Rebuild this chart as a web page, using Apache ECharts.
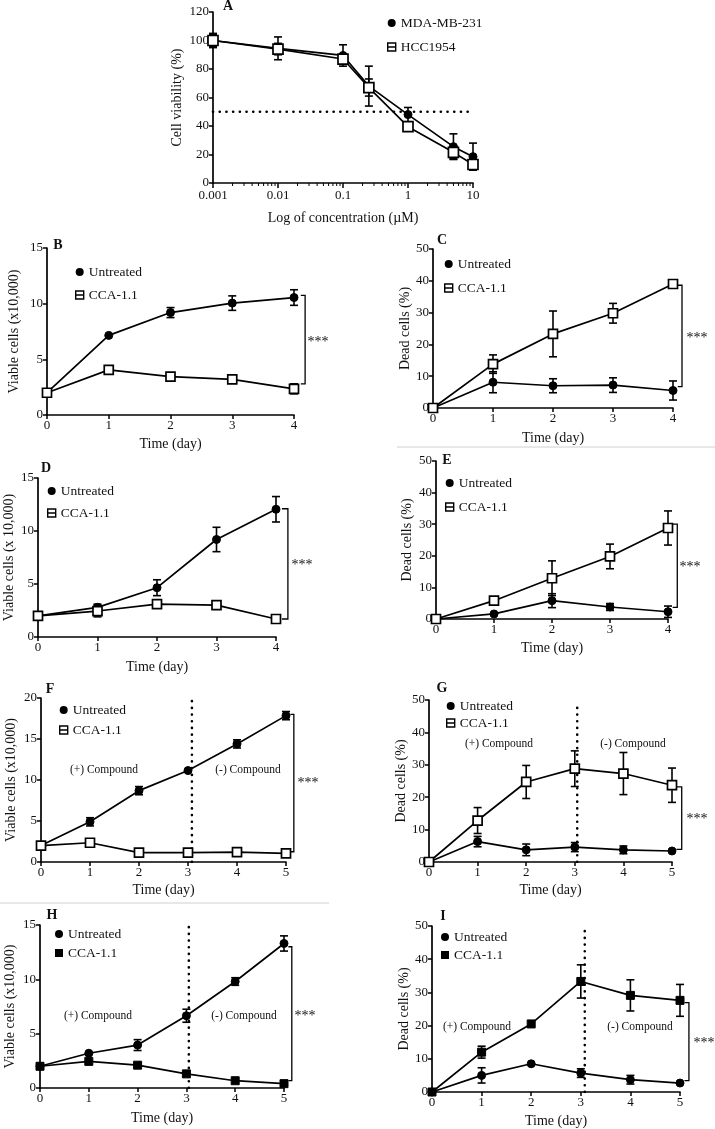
<!DOCTYPE html>
<html><head><meta charset="utf-8">
<script src="https://cdn.jsdelivr.net/npm/echarts@6/dist/echarts.min.js"></script>
<style>html,body{margin:0;padding:0;background:#fff}#c{width:715px;height:1129px}</style>
</head><body><div id="c"></div>
<script>
// ---------------- DATA ----------------
// Panel A
const concA = [0.001, 0.01, 0.1, 0.25, 1, 5, 10];
const mdaA = [100, 94.5, 89.5, 68, 48, 25.5, 18.5];
const mdaAErr = [5, 8, 7.5, 14, 5, 9, 9.5];
const hccA = [100, 94, 87, 67, 39.5, 21.5, 13];
const hccAErr = [4, 4, 3, 6, 2, 4.5, 3.5];
const xTicksA = ['0.001', '0.01', '0.1', '1', '10'];
const minorTicksA = [0.002,0.003,0.004,0.005,0.006,0.007,0.008,0.009,
  0.02,0.03,0.04,0.05,0.06,0.07,0.08,0.09,
  0.2,0.3,0.4,0.5,0.6,0.7,0.8,0.9,
  2,3,4,5,6,7,8,9];
const thresholdA = 50;

const days4 = [0, 1, 2, 3, 4];
const days5 = [0, 1, 2, 3, 4, 5];

// Panel B
const untB = [2, 7.15, 9.2, 10.05, 10.55];
const untBErr = [0, 0, 0.45, 0.65, 0.7];
const ccaB = [2, 4.05, 3.45, 3.2, 2.35];
const ccaBErr = [0, 0.15, 0.15, 0.35, 0.45];
// Panel C
const untC = [0, 8.1, 7.0, 7.2, 5.5];
const untCErr = [0, 3.3, 2.2, 2.3, 3.0];
const ccaC = [0, 13.8, 23.3, 29.8, 39.0];
const ccaCErr = [0, 2.9, 7.2, 3.1, 0.8];
// Panel D
const untD = [2, 2.8, 4.65, 9.2, 12.05];
const untDErr = [0, 0.3, 0.75, 1.15, 1.2];
const ccaD = [2, 2.45, 3.1, 3.0, 1.7];
const ccaDErr = [0, 0.55, 0.3, 0.2, 0.15];
// Panel E
const untE = [0, 1.6, 5.8, 3.8, 2.3];
const untEErr = [0, 0, 2.2, 1.1, 1.8];
const ccaE = [0, 5.8, 12.9, 19.8, 28.8];
const ccaEErr = [0, 0.8, 5.5, 3.9, 5.4];
// Panel F
const untF = [2, 4.9, 8.7, 11.15, 14.4, 17.85];
const untFErr = [0, 0.5, 0.5, 0, 0.5, 0.5];
const ccaF = [2, 2.35, 1.15, 1.15, 1.2, 1.05];
const ccaFErr = [0, 0, 0, 0, 0, 0];
// Panel G
const untG = [0, 6.3, 3.75, 4.6, 3.75, 3.4];
const untGErr = [0, 1.6, 1.8, 1.4, 1.2, 0];
const ccaG = [0, 12.8, 24.7, 28.8, 27.3, 23.7];
const ccaGErr = [0, 4, 5.1, 5.5, 6.5, 5.3];
// Panel H
const untH = [2, 3.2, 3.95, 6.65, 9.8, 13.3];
const untHErr = [0, 0, 0.5, 0.6, 0.35, 0.7];
const ccaH = [2, 2.45, 2.1, 1.3, 0.67, 0.4];
const ccaHErr = [0, 0, 0, 0, 0, 0];
// Panel I
const untI = [0, 5.0, 8.5, 5.7, 3.7, 2.7];
const untIErr = [0, 2.3, 0, 1.3, 1.3, 0];
const ccaI = [0, 12.0, 20.5, 33.3, 29.1, 27.6];
const ccaIErr = [0, 1.8, 0, 5, 4.7, 4.8];

// significance brackets: [armStartX, bracketX, topY, bottomY]
const bracketB = [4.11, 4.18, 10.75, 2.8];
const bracketC = [4.08, 4.15, 38.6, 6.7];
const bracketD = [4.1, 4.2, 12.1, 1.7];
const bracketE = [4.08, 4.16, 30, 3.7];
const bracketF = [5.09, 5.16, 18.0, 1.25];
const bracketG = [5.09, 5.2, 23.2, 3.9];
const bracketH = [5.09, 5.16, 13.0, 0.67];
const bracketI = [5.09, 5.18, 26.9, 3.4];
// treatment-switch dotted line: [x, topY]
const switchF = [3.08, 20];
const switchG = [3.05, 49];
const switchH = [3.05, 15.5];
const switchI = [3.08, 49];

// ---------------- CHART ----------------
const FONT = '"Liberation Serif", "Times New Roman", serif';
const BLACK = '#000';
const option = {animation:false, backgroundColor:'#fff', grid:[], xAxis:[], yAxis:[], legend:[], series:[], graphic:[]};

function axisBase(){
  return {
    axisLine:{show:true, onZero:false, lineStyle:{color:BLACK, width:1.7}},
    axisTick:{show:true, length:4, lineStyle:{color:BLACK, width:1.5}},
    splitLine:{show:false},
    axisLabel:{color:'#111', fontFamily:FONT, fontSize:13, margin:4},
    nameTextStyle:{color:'#111', fontFamily:FONT, fontSize:14},
    nameLocation:'middle'
  };
}
function zip(xs, ys){ return xs.map((x,i)=>[x, ys[i]]); }
function zip3(xs, ys, es){ return xs.map((x,i)=>[x, ys[i], es[i]]); }

function errRender(params, api){
  const x = api.value(0), y = api.value(1), e = api.value(2);
  if (!e) return null;
  const t = api.coord([x, y + e]), b = api.coord([x, y - e]);
  const w = 4, st = {stroke:BLACK, lineWidth:1.6};
  return {type:'group', children:[
    {type:'line', shape:{x1:t[0], y1:t[1], x2:b[0], y2:b[1]}, style:st},
    {type:'line', shape:{x1:t[0]-w, y1:t[1], x2:t[0]+w, y2:t[1]}, style:st},
    {type:'line', shape:{x1:b[0]-w, y1:b[1], x2:b[0]+w, y2:b[1]}, style:st}
  ]};
}
function errSeries(i, xs, ys, es){
  return {type:'custom', xAxisIndex:i, yAxisIndex:i, renderItem:errRender, z:1, silent:true,
    encode:{x:0, y:1}, data:zip3(xs, ys, es)};
}
function bracketSeries(i, b){
  return {type:'custom', xAxisIndex:i, yAxisIndex:i, silent:true, z:2, clip:false,
    encode:{x:[0,1], y:[2,3]}, data:[b],
    renderItem:(params, api)=>{
      const a0 = api.value(0), bx = api.value(1), top = api.value(2), bot = api.value(3);
      const p1 = api.coord([a0, top]), p2 = api.coord([bx, top]), p3 = api.coord([bx, bot]), p4 = api.coord([a0, bot]);
      return {type:'polyline', shape:{points:[p1, p2, p3, p4]}, style:{stroke:BLACK, lineWidth:1.3, fill:null}};
    }};
}
function lineSeries(i, name, xs, ys, symbol, size, filled){
  return {type:'line', name, xAxisIndex:i, yAxisIndex:i, data:zip(xs, ys), symbol, symbolSize:size,
    showSymbol:true, z:3, silent:true,
    itemStyle: filled ? {color:BLACK, borderColor:BLACK, borderWidth:1} : {color:'#fff', borderColor:BLACK, borderWidth:1.7},
    lineStyle:{color:BLACK, width:1.7}};
}
function dottedLine(i, data){
  return {type:'line', xAxisIndex:i, yAxisIndex:i, data, symbol:'none', silent:true, z:2,
    lineStyle:{color:BLACK, width:2.6, type:[0.1, 6.6], cap:'round'}};
}
const openSquareIcon = 'path://M0,0L10,0L10,10L0,10Z M0,5L10,5';
function legendFor(left, top, gap, names, filledSecond){
  return {left, top, orient:'vertical', itemGap:gap, itemWidth:8, itemHeight:8, padding:0, selectedMode:false,
    textStyle:{fontFamily:FONT, fontSize:13.5, color:'#111', lineHeight:14},
    data:[
      {name:names[0], icon:'circle', itemStyle:{color:BLACK, borderWidth:0}},
      filledSecond ? {name:names[1], icon:'rect', itemStyle:{color:BLACK, borderWidth:0}}
                   : {name:names[1], icon:openSquareIcon, itemStyle:{color:'#fff', borderColor:BLACK, borderWidth:1.4}}
    ]};
}
function text(x, y, s, size, bold){
  option.graphic.push({type:'text', x, y, silent:true,
    style:{text:s, fill:'#111', font:(bold?'bold ':'') + size + 'px ' + FONT,
      textAlign:'center', textVerticalAlign:'middle', align:'center', verticalAlign:'middle'}});
}

// ----- Panel A (index 0)
option.grid.push({left:213, top:12, width:260, height:171});
option.xAxis.push(Object.assign(axisBase(), {type:'log', logBase:10, min:0.001, max:10, gridIndex:0,
  name:'Log of concentration (µM)', nameGap:28,
  axisTick:{show:true, length:5, lineStyle:{color:BLACK, width:1.5}},
  axisLabel:{color:'#111', fontFamily:FONT, fontSize:13, margin:6,
    formatter:v=>xTicksA[Math.round(Math.log10(v)) + 3]}}));
option.yAxis.push(Object.assign(axisBase(), {type:'value', min:0, max:120, interval:20, gridIndex:0,
  name:'Cell viability (%)', nameGap:29}));
option.series.push(errSeries(0, concA, mdaA, mdaAErr));
option.series.push(errSeries(0, concA, hccA, hccAErr));
option.series.push(lineSeries(0, 'MDA-MB-231', concA, mdaA, 'circle', 8, true));
option.series.push(lineSeries(0, 'HCC1954', concA, hccA, 'rect', 10, false));
option.series.push(dottedLine(0, [[concA[0], thresholdA], [concA[concA.length-1], thresholdA]]));
option.series.push({type:'custom', xAxisIndex:0, yAxisIndex:0, silent:true, z:1, encode:{x:0, y:1},
  data:minorTicksA.map(v=>[v, 0]),
  renderItem:(p, api)=>{const c = api.coord([api.value(0), 0]);
    return {type:'line', shape:{x1:c[0], y1:c[1], x2:c[0], y2:c[1]+3}, style:{stroke:BLACK, lineWidth:1}};}});
option.legend.push(legendFor(387, 16, 10, ['MDA-MB-231', 'HCC1954'], false));
text(228, 6, 'A', 14, true);

// ----- Panels B..I
const panels = [
  {L:'B', grid:{left:47, top:248, width:247, height:167}, days:days4, ymax:15, yint:5, yName:'Viable cells (x10,000)', yGap:26, xGap:22,
   unt:untB, untErr:untBErr, cca:ccaB, ccaErr:ccaBErr, br:bracketB, sw:null, filled:false,
   leg:[75, 265, 9], letter:[58, 245], star:[318, 342]},
  {L:'C', grid:{left:433, top:249, width:240, height:159}, days:days4, ymax:50, yint:10, yName:'Dead cells (%)', yGap:20, xGap:23,
   unt:untC, untErr:untCErr, cca:ccaC, ccaErr:ccaCErr, br:bracketC, sw:null, filled:false,
   leg:[444, 257, 10], letter:[442, 240], star:[697, 338]},
  {L:'D', grid:{left:38, top:478, width:238, height:159}, days:days4, ymax:15, yint:5, yName:'Viable cells (x 10,000)', yGap:22, xGap:23,
   unt:untD, untErr:untDErr, cca:ccaD, ccaErr:ccaDErr, br:bracketD, sw:null, filled:false,
   leg:[47, 484, 8], letter:[46, 468], star:[302, 565]},
  {L:'E', grid:{left:436, top:461, width:232, height:158}, days:days4, ymax:50, yint:10, yName:'Dead cells (%)', yGap:22, xGap:22,
   unt:untE, untErr:untEErr, cca:ccaE, ccaErr:ccaEErr, br:bracketE, sw:null, filled:false,
   leg:[445, 476, 10], letter:[447, 460], star:[690, 567]},
  {L:'F', grid:{left:41, top:698, width:245, height:164}, days:days5, ymax:20, yint:5, yName:'Viable cells (x10,000)', yGap:23, xGap:21,
   unt:untF, untErr:untFErr, cca:ccaF, ccaErr:ccaFErr, br:bracketF, sw:switchF, filled:false,
   leg:[59, 703, 6], letter:[50, 689], star:[308, 783], comp:[[104, 770], [248, 770]]},
  {L:'G', grid:{left:429, top:700, width:243, height:162}, days:days5, ymax:50, yint:10, yName:'Dead cells (%)', yGap:19, xGap:21,
   unt:untG, untErr:untGErr, cca:ccaG, ccaErr:ccaGErr, br:bracketG, sw:switchG, filled:false,
   leg:[446, 699, 3], letter:[442, 688], star:[697, 819], comp:[[499, 744], [633, 744]]},
  {L:'H', grid:{left:40, top:925, width:244, height:163}, days:days5, ymax:15, yint:5, yName:'Viable cells (x10,000)', yGap:23, xGap:23,
   unt:untH, untErr:untHErr, cca:ccaH, ccaErr:ccaHErr, br:bracketH, sw:switchH, filled:true,
   leg:[55, 927, 5], letter:[52, 915], star:[305, 1016], comp:[[98, 1016], [244, 1016]]},
  {L:'I', grid:{left:432, top:926, width:248, height:166}, days:days5, ymax:50, yint:10, yName:'Dead cells (%)', yGap:19, xGap:22,
   unt:untI, untErr:untIErr, cca:ccaI, ccaErr:ccaIErr, br:bracketI, sw:switchI, filled:true,
   leg:[441, 930, 4], letter:[443, 916], star:[704, 1043], comp:[[477, 1027], [640, 1027]]}
];

panels.forEach((p, k)=>{
  const i = k + 1;
  const xmax = p.days[p.days.length-1];
  option.grid.push(p.grid);
  option.xAxis.push(Object.assign(axisBase(), {type:'value', min:0, max:xmax, interval:1, gridIndex:i,
    name:'Time (day)', nameGap:p.xGap}));
  option.yAxis.push(Object.assign(axisBase(), {type:'value', min:0, max:p.ymax, interval:p.yint, gridIndex:i,
    name:p.yName, nameGap:p.yGap}));
  option.series.push(errSeries(i, p.days, p.unt, p.untErr));
  option.series.push(errSeries(i, p.days, p.cca, p.ccaErr));
  option.series.push(lineSeries(i, 'Untreated', p.days, p.unt, 'circle', 8, true));
  option.series.push(lineSeries(i, 'CCA-1.1', p.days, p.cca, 'rect', p.filled ? 8 : 9, p.filled));
  option.series.push(bracketSeries(i, p.br));
  if (p.sw) option.series.push(dottedLine(i, [[p.sw[0], 0], [p.sw[0], p.sw[1]]]));
  option.legend.push(legendFor(p.leg[0], p.leg[1], p.leg[2], ['Untreated', 'CCA-1.1'], p.filled));
  text(p.letter[0], p.letter[1], p.L, 14, true);
  text(p.star[0], p.star[1], '***', 14, false);
  if (p.comp){
    text(p.comp[0][0], p.comp[0][1], '(+) Compound', 11.5, false);
    text(p.comp[1][0], p.comp[1][1], '(-) Compound', 11.5, false);
  }
});

// light separator rules
option.graphic.push({type:'line', silent:true, shape:{x1:397, y1:447, x2:715, y2:447}, style:{stroke:'#d0d0d0', lineWidth:1}});
option.graphic.push({type:'line', silent:true, shape:{x1:0, y1:903, x2:329, y2:903}, style:{stroke:'#d0d0d0', lineWidth:1}});

const chart = echarts.init(document.getElementById('c'), null, {renderer:'canvas'});
chart.setOption(option);
</script></body></html>
